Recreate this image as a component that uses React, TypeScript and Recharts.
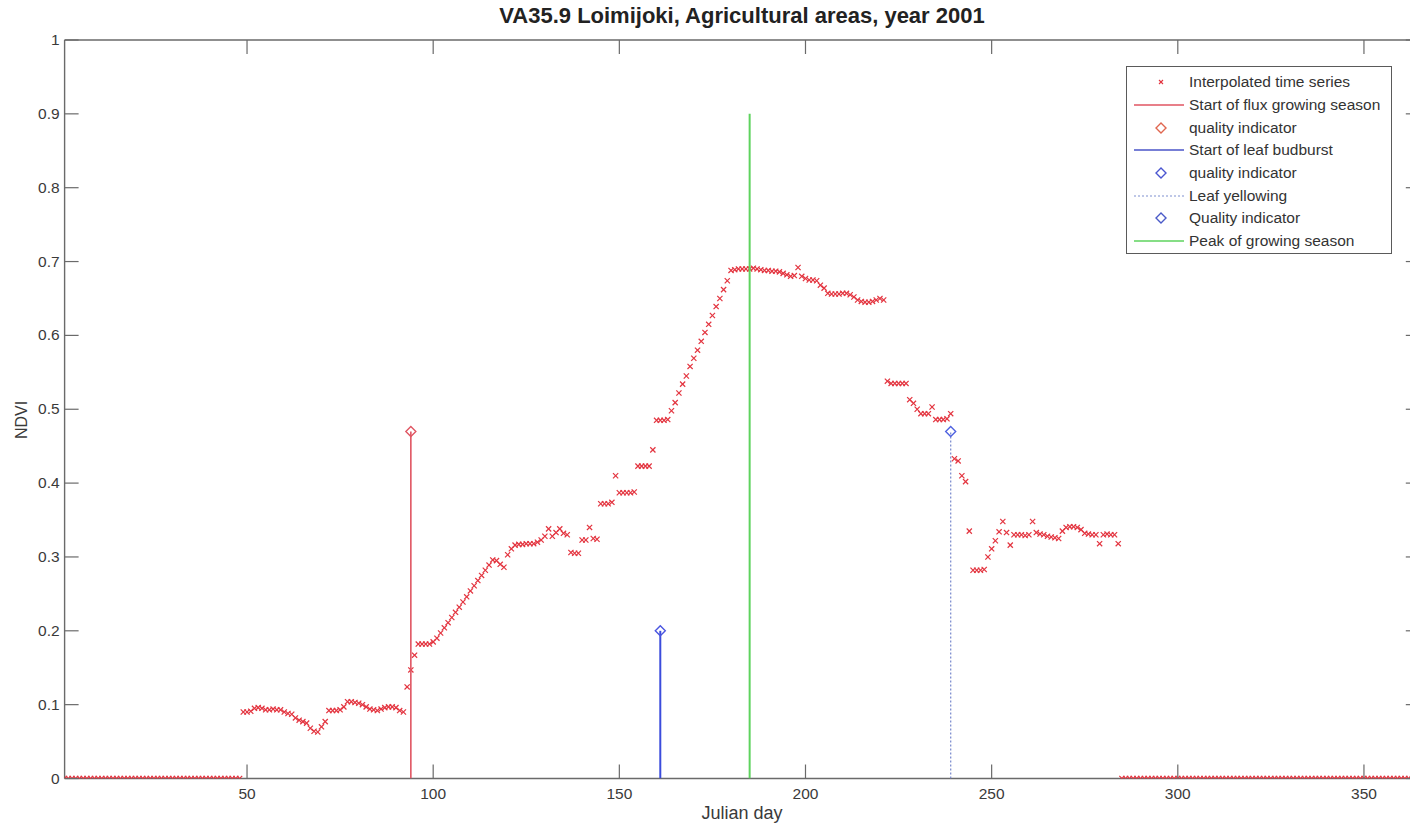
import React from 'react';
import { ComposedChart, Scatter, XAxis, YAxis, Legend } from 'recharts';

const FONT = '"Liberation Sans", Arial, Helvetica, sans-serif';

const chartTitle = 'VA35.9 Loimijoki, Agricultural areas, year 2001';
const xAxisLabel = 'Julian day';
const yAxisLabel = 'NDVI';

const xTicks = [50, 100, 150, 200, 250, 300, 350];
const yTicks = [0, 0.1, 0.2, 0.3, 0.4, 0.5, 0.6, 0.7, 0.8, 0.9, 1];
const yTickLabels = ['0', '0.1', '0.2', '0.3', '0.4', '0.5', '0.6', '0.7', '0.8', '0.9', '1'];

// days 1-48
const winterNdvi = [
  0, 0, 0, 0, 0, 0, 0, 0, 0, 0, 0, 0, 0, 0, 0, 0, 0, 0, 0, 0, 0, 0, 0, 0,
  0, 0, 0, 0, 0, 0, 0, 0, 0, 0, 0, 0, 0, 0, 0, 0, 0, 0, 0, 0, 0, 0, 0, 0,
];
// days 49-284
const seasonNdvi = [
  0.090, 0.090, 0.091, 0.095, 0.096, 0.095, 0.093, 0.093, 0.094, 0.093,
  0.093, 0.090, 0.088, 0.087, 0.082, 0.079, 0.077, 0.075, 0.068, 0.064,
  0.063, 0.070, 0.077, 0.092, 0.092, 0.092, 0.093, 0.097, 0.104, 0.104,
  0.103, 0.102, 0.100, 0.097, 0.094, 0.093, 0.092, 0.094, 0.096, 0.097,
  0.097, 0.096, 0.092, 0.090, 0.124, 0.147, 0.167, 0.182, 0.182, 0.182,
  0.182, 0.185, 0.190, 0.197, 0.204, 0.211, 0.218, 0.225, 0.232, 0.239,
  0.246, 0.254, 0.261, 0.268, 0.275, 0.282, 0.289, 0.296, 0.295, 0.290,
  0.286, 0.303, 0.311, 0.316, 0.317, 0.317, 0.318, 0.318, 0.318, 0.320,
  0.323, 0.328, 0.338, 0.328, 0.333, 0.338, 0.332, 0.330, 0.306, 0.305,
  0.305, 0.323, 0.323, 0.340, 0.325, 0.324, 0.372, 0.372, 0.372, 0.374,
  0.410, 0.387, 0.387, 0.387, 0.387, 0.388, 0.423, 0.423, 0.423, 0.423,
  0.445, 0.485, 0.485, 0.485, 0.486, 0.498, 0.509, 0.522, 0.534, 0.545,
  0.558, 0.569, 0.580, 0.592, 0.604, 0.615, 0.627, 0.639, 0.650, 0.662,
  0.674, 0.688, 0.689, 0.690, 0.690, 0.690, 0.690, 0.691, 0.690, 0.689,
  0.688, 0.688, 0.687, 0.687, 0.686, 0.684, 0.682, 0.680, 0.681, 0.692,
  0.680, 0.677, 0.675, 0.675, 0.674, 0.668, 0.664, 0.657, 0.656, 0.656,
  0.656, 0.657, 0.657, 0.655, 0.652, 0.648, 0.646, 0.645, 0.645, 0.646,
  0.648, 0.650, 0.648, 0.538, 0.535, 0.535, 0.535, 0.535, 0.535, 0.513,
  0.508, 0.500, 0.494, 0.494, 0.494, 0.503, 0.486, 0.486, 0.486, 0.487,
  0.494, 0.433, 0.430, 0.410, 0.402, 0.335, 0.282, 0.282, 0.282, 0.283,
  0.300, 0.311, 0.322, 0.334, 0.348, 0.333, 0.316, 0.330, 0.330, 0.330,
  0.329, 0.330, 0.348, 0.333, 0.331, 0.330, 0.328, 0.327, 0.326, 0.325,
  0.335, 0.340, 0.341, 0.341, 0.340, 0.337, 0.332, 0.331, 0.330, 0.330,
  0.318, 0.330, 0.331, 0.330, 0.330, 0.318,
];
// days 285-365
const autumnNdvi = [
  0, 0, 0, 0, 0, 0, 0, 0, 0, 0, 0, 0, 0, 0, 0, 0, 0, 0, 0, 0, 0, 0, 0, 0, 0, 0, 0,
  0, 0, 0, 0, 0, 0, 0, 0, 0, 0, 0, 0, 0, 0, 0, 0, 0, 0, 0, 0, 0, 0, 0, 0, 0, 0, 0,
  0, 0, 0, 0, 0, 0, 0, 0, 0, 0, 0, 0, 0, 0, 0, 0, 0, 0, 0, 0, 0, 0, 0, 0, 0, 0, 0,
];

const allNdvi = [...winterNdvi, ...seasonNdvi, ...autumnNdvi];
const timeSeries = allNdvi.map((v, i) => ({ day: i + 1, ndvi: v }));

const fluxStart = [{ day: 94, ndvi: 0 }, { day: 94, ndvi: 0.47, q: 1 }];
const budburst = [{ day: 161, ndvi: 0 }, { day: 161, ndvi: 0.2, q: 1 }];
const yellowing = [{ day: 239, ndvi: 0 }, { day: 239, ndvi: 0.47, q: 1 }];
const peakSeason = [{ day: 185, ndvi: 0 }, { day: 185, ndvi: 0.9 }];

const AXIS = '#6a6a6a';
const TXT = '#3a3a3a';
const DATA_RED = '#e3343f';
const FLUX_RED = '#e05562';
const BLUE = '#3b4cdc';
const YELLOW_BLUE = '#7f8fd0';
const GREEN = '#5ed35e';

const legendItems = [
  { label: 'Interpolated time series', kind: 'x', color: DATA_RED },
  { label: 'Start of flux growing season', kind: 'line', color: FLUX_RED },
  { label: 'quality indicator', kind: 'diamond', color: '#e0664f' },
  { label: 'Start of leaf budburst', kind: 'line', color: '#4a55c8' },
  { label: 'quality indicator', kind: 'diamond', color: '#4a55d0' },
  { label: 'Leaf yellowing', kind: 'dot', color: YELLOW_BLUE },
  { label: 'Quality indicator', kind: 'diamond', color: '#4a5ac8' },
  { label: 'Peak of growing season', kind: 'line', color: GREEN },
];

const TICK_LEN = 14;

const BottomTick = (p: any) => (
  <g>
    <line x1={p.x} y1={p.y} x2={p.x} y2={p.y - TICK_LEN} stroke={AXIS} strokeWidth={1.2} />
    <text x={p.x} y={p.y + 20} textAnchor="middle" fontFamily={FONT} fontSize={15.5} fill={TXT}>
      {p.payload.value}
    </text>
  </g>
);
const TopTick = (p: any) => (
  <line x1={p.x} y1={p.y} x2={p.x} y2={p.y + TICK_LEN} stroke={AXIS} strokeWidth={1.2} />
);
const LeftTick = (p: any) => {
  const idx = yTicks.indexOf(p.payload.value);
  return (
    <g>
      <line x1={p.x} y1={p.y} x2={p.x + TICK_LEN} y2={p.y} stroke={AXIS} strokeWidth={1.2} />
      <text x={p.x - 5} y={p.y + 5} textAnchor="end" fontFamily={FONT} fontSize={15.5} fill={TXT}>
        {idx >= 0 ? yTickLabels[idx] : String(p.payload.value)}
      </text>
    </g>
  );
};
const RightTick = (p: any) => (
  <line x1={p.x} y1={p.y} x2={p.x - TICK_LEN} y2={p.y} stroke={AXIS} strokeWidth={1.2} />
);

const XMark = (p: any) => {
  const s = 2.6;
  const { cx, cy } = p;
  return (
    <g stroke={DATA_RED} strokeWidth={1.2}>
      <line x1={cx - s} y1={cy - s} x2={cx + s} y2={cy + s} />
      <line x1={cx - s} y1={cy + s} x2={cx + s} y2={cy - s} />
    </g>
  );
};

const makeDiamond = (color: string) => (p: any) => {
  if (!p.payload || !p.payload.q) return <g />;
  const { cx, cy } = p;
  const r = 5;
  return (
    <path
      d={`M${cx},${cy - r}L${cx + r},${cy}L${cx},${cy + r}L${cx - r},${cy}Z`}
      fill="none"
      stroke={color}
      strokeWidth={1.4}
    />
  );
};
const NoMark = () => <g />;

const LegendBox = () => (
  <div
    style={{
      width: 266,
      height: 188,
      boxSizing: 'border-box',
      border: '1.5px solid #5a5a5a',
      background: '#fff',
      paddingTop: 4,
      fontFamily: FONT,
      fontSize: 15.5,
      color: '#333',
    }}
  >
    {legendItems.map((it, i) => (
      <div key={i} style={{ height: 22.7, display: 'flex', alignItems: 'center' }}>
        <svg width={62} height={22} style={{ flex: 'none' }}>
          {it.kind === 'line' && <line x1={7} y1={11} x2={57} y2={11} stroke={it.color} strokeWidth={1.5} />}
          {it.kind === 'dot' && (
            <line x1={7} y1={11} x2={57} y2={11} stroke={it.color} strokeWidth={1.2} strokeDasharray="2 2" />
          )}
          {it.kind === 'diamond' && (
            <path d="M34,6L39,11L34,16L29,11Z" fill="none" stroke={it.color} strokeWidth={1.4} />
          )}
          {it.kind === 'x' && (
            <g stroke={it.color} strokeWidth={1.1}>
              <line x1={32} y1={9} x2={36} y2={13} />
              <line x1={32} y1={13} x2={36} y2={9} />
            </g>
          )}
        </svg>
        <span style={{ whiteSpace: 'nowrap' }}>{it.label}</span>
      </div>
    ))}
  </div>
);

export default function App() {
  return (
    <div style={{ position: 'fixed', left: 0, top: 0, width: 1410, height: 825, overflow: 'hidden', background: '#fff' }}>
      <div
        style={{
          position: 'absolute',
          left: 0,
          width: 1484,
          top: 3,
          textAlign: 'center',
          fontFamily: FONT,
          fontWeight: 'bold',
          fontSize: 22,
          color: '#222',
        }}
      >
        {chartTitle}
      </div>
      <div
        style={{
          position: 'absolute',
          left: 0,
          width: 1484,
          top: 803,
          textAlign: 'center',
          fontFamily: FONT,
          fontSize: 18,
          color: TXT,
        }}
      >
        {xAxisLabel}
      </div>
      <div
        style={{
          position: 'absolute',
          left: 22,
          top: 420,
          transform: 'translate(-50%, -50%) rotate(-90deg)',
          fontFamily: FONT,
          fontSize: 16,
          color: TXT,
          whiteSpace: 'nowrap',
        }}
      >
        {yAxisLabel}
      </div>
      <div style={{ position: 'absolute', left: 0, top: 0 }}>
        <ComposedChart
          width={1440}
          height={825}
          data={timeSeries}
          margin={{ top: 39, right: 19.2, bottom: 45.5, left: 63.6 }}
        >
          <XAxis
            dataKey="day"
            type="number"
            domain={[1, 365]}
            ticks={xTicks}
            allowDataOverflow
            height={1}
            tickSize={0}
            tickMargin={0}
            tickLine={false}
            axisLine={{ stroke: AXIS, strokeWidth: 1.4 }}
            tick={BottomTick}
            interval={0}
          />
          <XAxis
            xAxisId="top"
            orientation="top"
            dataKey="day"
            type="number"
            domain={[1, 365]}
            ticks={xTicks}
            allowDataOverflow
            height={1}
            tickSize={0}
            tickMargin={0}
            tickLine={false}
            axisLine={{ stroke: AXIS, strokeWidth: 1.4 }}
            tick={TopTick}
            interval={0}
          />
          <YAxis
            type="number"
            domain={[0, 1]}
            ticks={yTicks}
            allowDataOverflow
            width={1}
            tickSize={0}
            tickMargin={0}
            tickLine={false}
            axisLine={{ stroke: AXIS, strokeWidth: 1.4 }}
            tick={LeftTick}
            interval={0}
          />
          <YAxis
            yAxisId="right"
            orientation="right"
            type="number"
            domain={[0, 1]}
            ticks={yTicks}
            allowDataOverflow
            width={1}
            tickSize={0}
            tickMargin={0}
            tickLine={false}
            axisLine={{ stroke: AXIS, strokeWidth: 1.4 }}
            tick={RightTick}
            interval={0}
          />
          <Legend
            layout="vertical"
            align="center"
            verticalAlign="middle"
            wrapperStyle={{ left: 1126, top: 66, width: 266, height: 188 }}
            content={() => <LegendBox />}
          />
          <Scatter
            name="Interpolated time series"
            data={timeSeries}
            dataKey="ndvi"
            shape={XMark}
            isAnimationActive={false}
          />
          <Scatter
            name="Start of flux growing season"
            data={fluxStart}
            dataKey="ndvi"
            line={{ stroke: FLUX_RED, strokeWidth: 1.6 }}
            shape={makeDiamond(FLUX_RED)}
            isAnimationActive={false}
          />
          <Scatter
            name="Start of leaf budburst"
            data={budburst}
            dataKey="ndvi"
            line={{ stroke: BLUE, strokeWidth: 2 }}
            shape={makeDiamond('#4a55e0')}
            isAnimationActive={false}
          />
          <Scatter
            name="Leaf yellowing"
            data={yellowing}
            dataKey="ndvi"
            line={{ stroke: YELLOW_BLUE, strokeWidth: 1.3, strokeDasharray: '2 2' }}
            shape={makeDiamond('#4f62e0')}
            isAnimationActive={false}
          />
          <Scatter
            name="Peak of growing season"
            data={peakSeason}
            dataKey="ndvi"
            line={{ stroke: GREEN, strokeWidth: 2 }}
            shape={NoMark}
            isAnimationActive={false}
          />
        </ComposedChart>
      </div>
    </div>
  );
}
